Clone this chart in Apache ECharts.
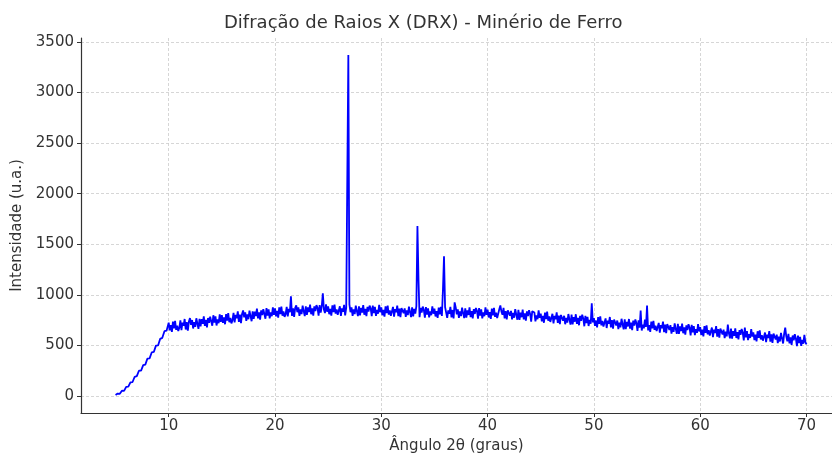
<!DOCTYPE html>
<html>
<head>
<meta charset="utf-8">
<script src="https://cdn.jsdelivr.net/npm/echarts@6/dist/echarts.min.js"></script>
<style>
  html, body { margin:0; padding:0; background:#fff; }
  #chart { width:832px; height:459px; }
</style>
</head>
<body>
<div id="chart"></div>
<script>
// XRD pattern (2θ in degrees, intensity in a.u.)
// rise 5–10° sampled every 0.2°, the rest every 0.1°
const angles = [
  5.0, 5.2, 5.4, 5.6, 5.8, 6.0, 6.2, 6.4, 6.6, 6.8,
  7.0, 7.2, 7.4, 7.6, 7.8, 8.0, 8.2, 8.4, 8.6, 8.8,
  9.0, 9.2, 9.4, 9.6, 9.8,
  10.0, 10.1, 10.2, 10.3, 10.4, 10.5, 10.6, 10.7, 10.8, 10.9,
  11.0, 11.1, 11.2, 11.3, 11.4, 11.5, 11.6, 11.7, 11.8, 11.9,
  12.0, 12.1, 12.2, 12.3, 12.4, 12.5, 12.6, 12.7, 12.8, 12.9,
  13.0, 13.1, 13.2, 13.3, 13.4, 13.5, 13.6, 13.7, 13.8, 13.9,
  14.0, 14.1, 14.2, 14.3, 14.4, 14.5, 14.6, 14.7, 14.8, 14.9,
  15.0, 15.1, 15.2, 15.3, 15.4, 15.5, 15.6, 15.7, 15.8, 15.9,
  16.0, 16.1, 16.2, 16.3, 16.4, 16.5, 16.6, 16.7, 16.8, 16.9,
  17.0, 17.1, 17.2, 17.3, 17.4, 17.5, 17.6, 17.7, 17.8, 17.9,
  18.0, 18.1, 18.2, 18.3, 18.4, 18.5, 18.6, 18.7, 18.8, 18.9,
  19.0, 19.1, 19.2, 19.3, 19.4, 19.5, 19.6, 19.7, 19.8, 19.9,
  20.0, 20.1, 20.2, 20.3, 20.4, 20.5, 20.6, 20.7, 20.8, 20.9,
  21.0, 21.1, 21.2, 21.3, 21.4, 21.5, 21.6, 21.7, 21.8, 21.9,
  22.0, 22.1, 22.2, 22.3, 22.4, 22.5, 22.6, 22.7, 22.8, 22.9,
  23.0, 23.1, 23.2, 23.3, 23.4, 23.5, 23.6, 23.7, 23.8, 23.9,
  24.0, 24.1, 24.2, 24.3, 24.4, 24.5, 24.6, 24.7, 24.8, 24.9,
  25.0, 25.1, 25.2, 25.3, 25.4, 25.5, 25.6, 25.7, 25.8, 25.9,
  26.0, 26.1, 26.2, 26.3, 26.4, 26.5, 26.6, 26.7, 26.8, 26.9,
  27.0, 27.1, 27.2, 27.3, 27.4, 27.5, 27.6, 27.7, 27.8, 27.9,
  28.0, 28.1, 28.2, 28.3, 28.4, 28.5, 28.6, 28.7, 28.8, 28.9,
  29.0, 29.1, 29.2, 29.3, 29.4, 29.5, 29.6, 29.7, 29.8, 29.9,
  30.0, 30.1, 30.2, 30.3, 30.4, 30.5, 30.6, 30.7, 30.8, 30.9,
  31.0, 31.1, 31.2, 31.3, 31.4, 31.5, 31.6, 31.7, 31.8, 31.9,
  32.0, 32.1, 32.2, 32.3, 32.4, 32.5, 32.6, 32.7, 32.8, 32.9,
  33.0, 33.1, 33.2, 33.3, 33.4, 33.5, 33.6, 33.7, 33.8, 33.9,
  34.0, 34.1, 34.2, 34.3, 34.4, 34.5, 34.6, 34.7, 34.8, 34.9,
  35.0, 35.1, 35.2, 35.3, 35.4, 35.5, 35.6, 35.7, 35.8, 35.9,
  36.0, 36.1, 36.2, 36.3, 36.4, 36.5, 36.6, 36.7, 36.8, 36.9,
  37.0, 37.1, 37.2, 37.3, 37.4, 37.5, 37.6, 37.7, 37.8, 37.9,
  38.0, 38.1, 38.2, 38.3, 38.4, 38.5, 38.6, 38.7, 38.8, 38.9,
  39.0, 39.1, 39.2, 39.3, 39.4, 39.5, 39.6, 39.7, 39.8, 39.9,
  40.0, 40.1, 40.2, 40.3, 40.4, 40.5, 40.6, 40.7, 40.8, 40.9,
  41.0, 41.1, 41.2, 41.3, 41.4, 41.5, 41.6, 41.7, 41.8, 41.9,
  42.0, 42.1, 42.2, 42.3, 42.4, 42.5, 42.6, 42.7, 42.8, 42.9,
  43.0, 43.1, 43.2, 43.3, 43.4, 43.5, 43.6, 43.7, 43.8, 43.9,
  44.0, 44.1, 44.2, 44.3, 44.4, 44.5, 44.6, 44.7, 44.8, 44.9,
  45.0, 45.1, 45.2, 45.3, 45.4, 45.5, 45.6, 45.7, 45.8, 45.9,
  46.0, 46.1, 46.2, 46.3, 46.4, 46.5, 46.6, 46.7, 46.8, 46.9,
  47.0, 47.1, 47.2, 47.3, 47.4, 47.5, 47.6, 47.7, 47.8, 47.9,
  48.0, 48.1, 48.2, 48.3, 48.4, 48.5, 48.6, 48.7, 48.8, 48.9,
  49.0, 49.1, 49.2, 49.3, 49.4, 49.5, 49.6, 49.7, 49.8, 49.9,
  50.0, 50.1, 50.2, 50.3, 50.4, 50.5, 50.6, 50.7, 50.8, 50.9,
  51.0, 51.1, 51.2, 51.3, 51.4, 51.5, 51.6, 51.7, 51.8, 51.9,
  52.0, 52.1, 52.2, 52.3, 52.4, 52.5, 52.6, 52.7, 52.8, 52.9,
  53.0, 53.1, 53.2, 53.3, 53.4, 53.5, 53.6, 53.7, 53.8, 53.9,
  54.0, 54.1, 54.2, 54.3, 54.4, 54.5, 54.6, 54.7, 54.8, 54.9,
  55.0, 55.1, 55.2, 55.3, 55.4, 55.5, 55.6, 55.7, 55.8, 55.9,
  56.0, 56.1, 56.2, 56.3, 56.4, 56.5, 56.6, 56.7, 56.8, 56.9,
  57.0, 57.1, 57.2, 57.3, 57.4, 57.5, 57.6, 57.7, 57.8, 57.9,
  58.0, 58.1, 58.2, 58.3, 58.4, 58.5, 58.6, 58.7, 58.8, 58.9,
  59.0, 59.1, 59.2, 59.3, 59.4, 59.5, 59.6, 59.7, 59.8, 59.9,
  60.0, 60.1, 60.2, 60.3, 60.4, 60.5, 60.6, 60.7, 60.8, 60.9,
  61.0, 61.1, 61.2, 61.3, 61.4, 61.5, 61.6, 61.7, 61.8, 61.9,
  62.0, 62.1, 62.2, 62.3, 62.4, 62.5, 62.6, 62.7, 62.8, 62.9,
  63.0, 63.1, 63.2, 63.3, 63.4, 63.5, 63.6, 63.7, 63.8, 63.9,
  64.0, 64.1, 64.2, 64.3, 64.4, 64.5, 64.6, 64.7, 64.8, 64.9,
  65.0, 65.1, 65.2, 65.3, 65.4, 65.5, 65.6, 65.7, 65.8, 65.9,
  66.0, 66.1, 66.2, 66.3, 66.4, 66.5, 66.6, 66.7, 66.8, 66.9,
  67.0, 67.1, 67.2, 67.3, 67.4, 67.5, 67.6, 67.7, 67.8, 67.9,
  68.0, 68.1, 68.2, 68.3, 68.4, 68.5, 68.6, 68.7, 68.8, 68.9,
  69.0, 69.1, 69.2, 69.3, 69.4, 69.5, 69.6, 69.7, 69.8, 69.9,
  70.0
];
const intensity = [
  10, 24, 22, 52, 50, 90, 92, 135, 138, 190,
  196, 250, 250, 305, 310, 370, 372, 430, 435, 498,
  500, 565, 575, 640, 645,
  725, 648, 701, 634, 735, 669, 743, 654, 696, 642,
  674, 747, 652, 726, 694, 761, 657, 730, 646, 736,
  770, 703, 751, 667, 731, 684, 768, 714, 664, 762,
  687, 760, 714, 788, 693, 752, 679, 771, 724, 783,
  771, 694, 798, 725, 786, 697, 756, 719, 806, 733,
  800, 723, 776, 709, 810, 744, 818, 729, 771, 717,
  749, 822, 727, 801, 769, 836, 732, 805, 721, 811,
  845, 778, 826, 742, 806, 759, 843, 789, 739, 837,
  762, 835, 789, 863, 768, 827, 754, 846, 799, 858,
  841, 764, 868, 795, 856, 767, 826, 789, 876, 803,
  865, 788, 841, 774, 875, 809, 883, 794, 836, 782,
  809, 882, 787, 861, 829, 985, 792, 865, 781, 871,
  895, 828, 876, 792, 856, 809, 893, 839, 789, 887,
  802, 875, 829, 903, 808, 867, 794, 886, 839, 898,
  871, 794, 898, 825, 886, 1015, 856, 819, 906, 833,
  885, 808, 861, 794, 895, 829, 903, 814, 856, 802,
  814, 887, 792, 866, 834, 901, 797, 870, 865, 3370,
  905, 828, 876, 792, 856, 809, 893, 839, 789, 887,
  797, 870, 824, 898, 803, 862, 789, 881, 834, 893,
  866, 789, 893, 820, 881, 792, 851, 814, 901, 828,
  875, 798, 851, 784, 885, 819, 893, 804, 846, 792,
  807, 880, 785, 859, 827, 894, 790, 863, 779, 869,
  885, 818, 866, 782, 846, 799, 883, 829, 779, 877,
  787, 860, 814, 888, 1680, 1150, 779, 871, 824, 883,
  851, 774, 878, 805, 866, 777, 836, 799, 886, 813,
  863, 786, 839, 772, 873, 807, 881, 792, 1050, 1380,
  880, 867, 772, 846, 814, 881, 777, 850, 766, 925,
  875, 808, 856, 772, 836, 789, 873, 819, 769, 867,
  774, 847, 801, 875, 780, 839, 766, 858, 811, 870,
  841, 764, 868, 795, 856, 767, 826, 789, 876, 803,
  853, 776, 829, 762, 863, 797, 871, 782, 824, 770,
  784, 857, 895, 836, 804, 871, 767, 840, 756, 846,
  860, 793, 841, 757, 821, 774, 858, 804, 754, 852,
  752, 825, 779, 853, 758, 817, 744, 836, 789, 848,
  811, 734, 838, 845, 826, 737, 796, 759, 846, 773,
  815, 738, 791, 724, 825, 759, 833, 744, 786, 732,
  739, 812, 717, 791, 759, 826, 722, 795, 711, 801,
  812, 745, 793, 709, 773, 726, 810, 756, 706, 804,
  707, 780, 734, 808, 713, 772, 699, 791, 744, 803,
  766, 689, 793, 720, 781, 692, 751, 714, 915, 728,
  770, 693, 746, 679, 780, 714, 788, 699, 741, 687,
  694, 767, 672, 746, 714, 781, 677, 750, 666, 756,
  765, 698, 746, 662, 726, 679, 763, 709, 659, 757,
  660, 733, 687, 761, 666, 725, 652, 744, 697, 756,
  721, 644, 748, 675, 845, 647, 706, 669, 756, 683,
  895, 648, 701, 634, 735, 669, 743, 654, 696, 642,
  649, 722, 627, 701, 669, 736, 632, 705, 621, 711,
  720, 653, 701, 617, 681, 634, 718, 664, 614, 712,
  614, 687, 641, 715, 620, 679, 606, 698, 651, 710,
  676, 599, 703, 630, 691, 602, 661, 624, 711, 638,
  680, 603, 656, 589, 690, 624, 698, 609, 651, 597,
  604, 677, 582, 656, 624, 691, 587, 660, 576, 666,
  675, 608, 656, 572, 636, 589, 705, 619, 569, 667,
  567, 640, 594, 668, 573, 632, 559, 651, 604, 663,
  626, 549, 675, 580, 641, 552, 611, 574, 661, 588,
  630, 553, 606, 539, 640, 574, 648, 559, 601, 547,
  554, 627, 532, 606, 574, 641, 537, 610, 526, 616,
  625, 558, 606, 522, 586, 539, 623, 569, 519, 617,
  675, 587, 541, 615, 520, 579, 506, 598, 551, 610,
  569, 492, 596, 523, 584, 495, 554, 517, 604, 531,
  510
];
const xTicks = [10, 20, 30, 40, 50, 60, 70];
const yTicks = [0, 500, 1000, 1500, 2000, 2500, 3000, 3500];

(function(){
  const chart = echarts.init(document.getElementById('chart'));
  const FONT = 'DejaVu Sans';
  const TXT = '#333';
  const gridLine = { show:true, lineStyle:{ color:'#cccccc', width:0.8, type:[3,2] } };
  const axisLine = { show:true, onZero:false, lineStyle:{ color:'#333', width:1.2 } };
  const plain = v => String(v);   // no thousands separator

  const points = angles.map((a, i) => [a, intensity[i]]);

  chart.setOption({
    animation: false,
    backgroundColor: '#fff',
    title: {
      text: 'Difração de Raios X (DRX) - Minério de Ferro',
      left: 219, top: 9,
      textStyle: { fontFamily: FONT, fontSize: 18, fontWeight: 'normal', color: TXT }
    },
    grid: { left: 81, right: 0, top: 38, bottom: 43, containLabel: false },
    xAxis: {
      type: 'value', min: 1.75, max: 72.4,
      name: 'Ângulo 2θ (graus)', nameLocation: 'middle', nameGap: 26,
      nameTextStyle: { fontFamily: FONT, fontSize: 15, color: TXT },
      axisLine,
      axisTick: { show:true, inside:false, length:4, customValues: xTicks, lineStyle:{ color:'#333' } },
      axisLabel: { customValues: xTicks, formatter: plain, margin: 6, fontFamily: FONT, fontSize: 15, color: TXT },
      splitLine: gridLine
    },
    yAxis: {
      type: 'value', min: -168, max: 3538,
      name: 'Intensidade (u.a.)', nameLocation: 'middle', nameGap: 53,
      nameTextStyle: { fontFamily: FONT, fontSize: 15, color: TXT },
      axisLine,
      axisTick: { show:true, inside:false, length:4, customValues: yTicks, lineStyle:{ color:'#333' } },
      axisLabel: { customValues: yTicks, formatter: plain, margin: 7, fontFamily: FONT, fontSize: 15, color: TXT },
      splitLine: gridLine
    },
    series: [{
      type: 'line',
      data: points,
      showSymbol: false,
      smooth: false,
      lineStyle: { color: '#0000ff', width: 1.8 },
      clip: true
    }]
  });
})();
</script>
</body>
</html>
